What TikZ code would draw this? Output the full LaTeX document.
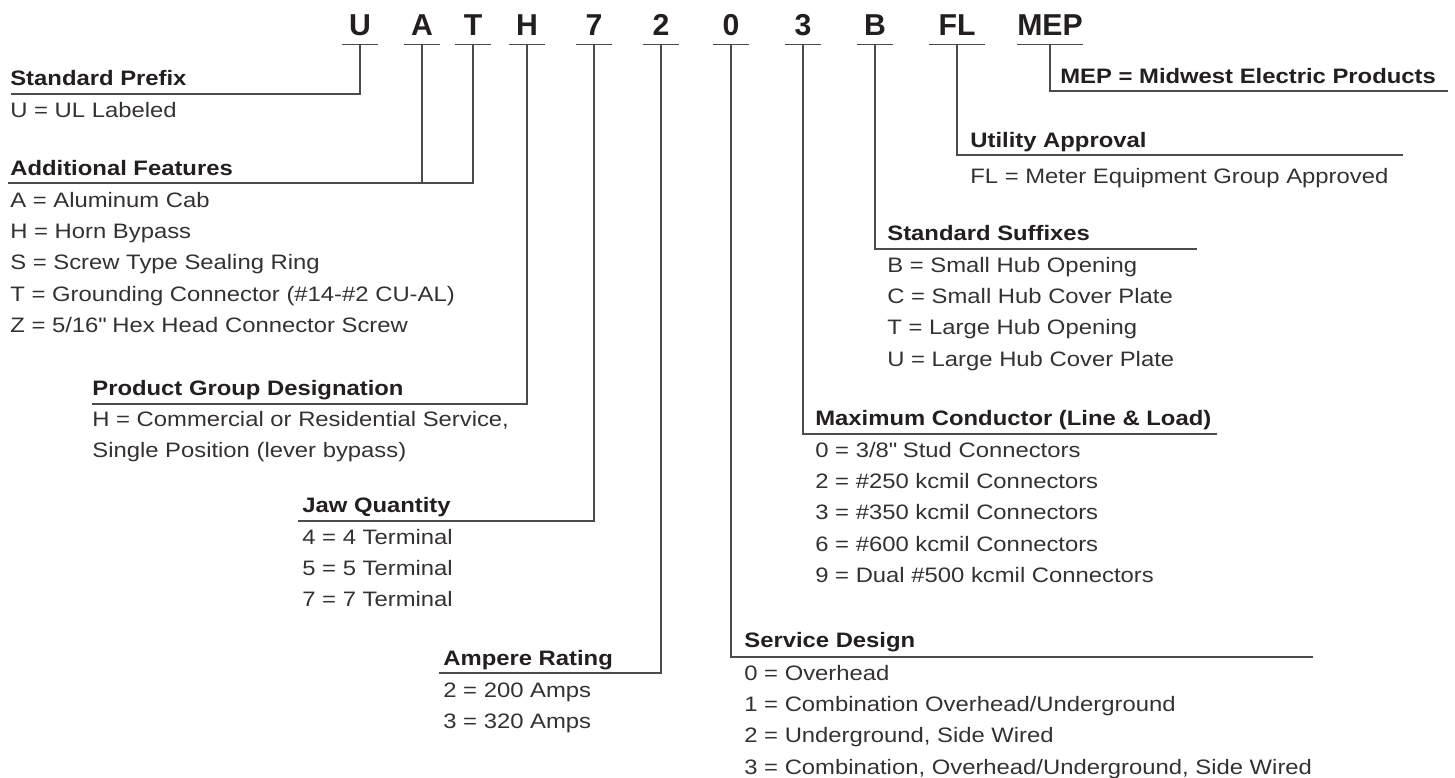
\documentclass[tikz,border=0pt]{standalone}
\usepackage{fontspec}
\setmainfont{Liberation Sans}[FakeStretch=1.14]
\newfontfamily\codefont{Liberation Sans}
\usetikzlibrary{positioning}
\definecolor{inkMEP}{RGB}{35,31,32}
\definecolor{leadGray}{RGB}{75,75,75}
\newcommand{\keysize}{\fontsize{11.9pt}{17.8pt}\selectfont}

\begin{document}
\begin{tikzpicture}[
    x=0.02cm, y=-0.02cm,
    font=\keysize,
    code/.style={
        font={\codefont\bfseries\fontsize{17.2pt}{20pt}\selectfont},
        text=inkMEP,
        anchor=base,
        inner sep=0pt,
        text depth=0.18cm,
        minimum width=0.72cm
    },
    head/.style={
        font={\keysize\bfseries},
        text=inkMEP,
        anchor=base west,
        inner sep=0pt
    },
    items/.style={
        font=\keysize,
        text=inkMEP!92,
        anchor=north west,
        yshift=12.46pt,
        align=left,
        inner sep=0pt
    },
    lead/.style={
        draw=leadGray,
        line width=0.65pt
    }
]
\useasboundingbox (0,0) rectangle (1455,778);

% CODIGO
\node[code] (cU) at (360,35) {U};
\node[code] (cA) at (422,35) {A};
\node[code] (cT) at (473,35) {T};
\node[code] (cH) at (527,35) {H};
\node[code] (c7) at (594,35) {7};
\node[code] (c2) at (661,35) {2};
\node[code] (c0) at (731,35) {0};
\node[code] (c3) at (803,35) {3};
\node[code] (cB) at (875,35) {B};
\node[code, minimum width=1.12cm] (cFL) at (957,35) {FL};
\node[code] (cMEP) at (1050,35) {MEP};

\foreach \c in {cU,cA,cT,cH,c7,c2,c0,c3,cB,cFL,cMEP}
    \draw[lead] (\c.south west) -- (\c.south east);

% LADO IZQUIERDO
\node[head] (hPrefix) at (10,85) {Standard Prefix};
\node[items] (iPrefix) at (10,117) {\strut U = UL Labeled};

\node[head] (hFeat) at (10,175) {Additional Features};
\node[items] (iFeat) at (10,207)
{
\strut A = Aluminum Cab\\
H = Horn Bypass\\
S = Screw Type Sealing Ring\\
T = Grounding Connector (\#14-\#2 CU-AL)\\
Z = 5/16\textquotedbl{} Hex Head Connector Screw
};

\node[head] (hGroup) at (92,395) {Product Group Designation};
\node[items] (iGroup) at (92,426)
{
\strut H = Commercial or Residential Service,\\
Single Position (lever bypass)
};

\node[head] (hJaw) at (302,512) {Jaw Quantity};
\node[items] (iJaw) at (302,544)
{
\strut 4 = 4 Terminal\\
5 = 5 Terminal\\
7 = 7 Terminal
};

\node[head] (hAmp) at (443,665) {Ampere Rating};
\node[items] (iAmp) at (443,697)
{
\strut 2 = 200 Amps\\
3 = 320 Amps
};

% LADO DERECHO
\node[head] (hMEP) at (1060,83) {MEP = Midwest Electric Products};

\node[head] (hUtil) at (970,147) {Utility Approval};
\node[items] (iUtil) at (970,183) {\strut FL = Meter Equipment Group Approved};

\node[head] (hSuf) at (887,240) {Standard Suffixes};
\node[items] (iSuf) at (887,272)
{
\strut B = Small Hub Opening\\
C = Small Hub Cover Plate\\
T = Large Hub Opening\\
U = Large Hub Cover Plate
};

\node[head] (hMax) at (815,425) {Maximum Conductor (Line \& Load)};
\node[items] (iMax) at (815,457)
{
\strut 0 = 3/8\textquotedbl{} Stud Connectors\\
2 = \#250 kcmil Connectors\\
3 = \#350 kcmil Connectors\\
6 = \#600 kcmil Connectors\\
9 = Dual \#500 kcmil Connectors
};

\node[head] (hSvc) at (744,647) {Service Design};
\node[items] (iSvc) at (744,680)
{
\strut 0 = Overhead\\
1 = Combination Overhead/Underground\\
2 = Underground, Side Wired\\
3 = Combination, Overhead/Underground, Side Wired
};

% EXTREMOS DE LINEAS
\coordinate (lPrefix) at (11,94);
\coordinate (lFeat) at (8,183);
\coordinate (lGroup) at (92,404);
\coordinate (lJaw) at (298,521);
\coordinate (lAmp) at (439,673);
\coordinate (rMEP) at (1448,91);
\coordinate (rUtil) at (1403,155);
\coordinate (rSuf) at (1197,249);
\coordinate (rMax) at (1217,434);
\coordinate (rSvc) at (1313,657);

% LINEAS
\draw[lead] (cU.south) |- (lPrefix);
\draw[lead] (cA.south) -- (cA.south |- lFeat);
\draw[lead] (cT.south) |- (lFeat);
\draw[lead] (cH.south) |- (lGroup);
\draw[lead] (c7.south) |- (lJaw);
\draw[lead] (c2.south) |- (lAmp);

\draw[lead] (cMEP.south) |- (rMEP);
\draw[lead] (cFL.south) |- (rUtil);
\draw[lead] (cB.south) |- (rSuf);
\draw[lead] (c3.south) |- (rMax);
\draw[lead] (c0.south) |- (rSvc);

\end{tikzpicture}
\end{document}
